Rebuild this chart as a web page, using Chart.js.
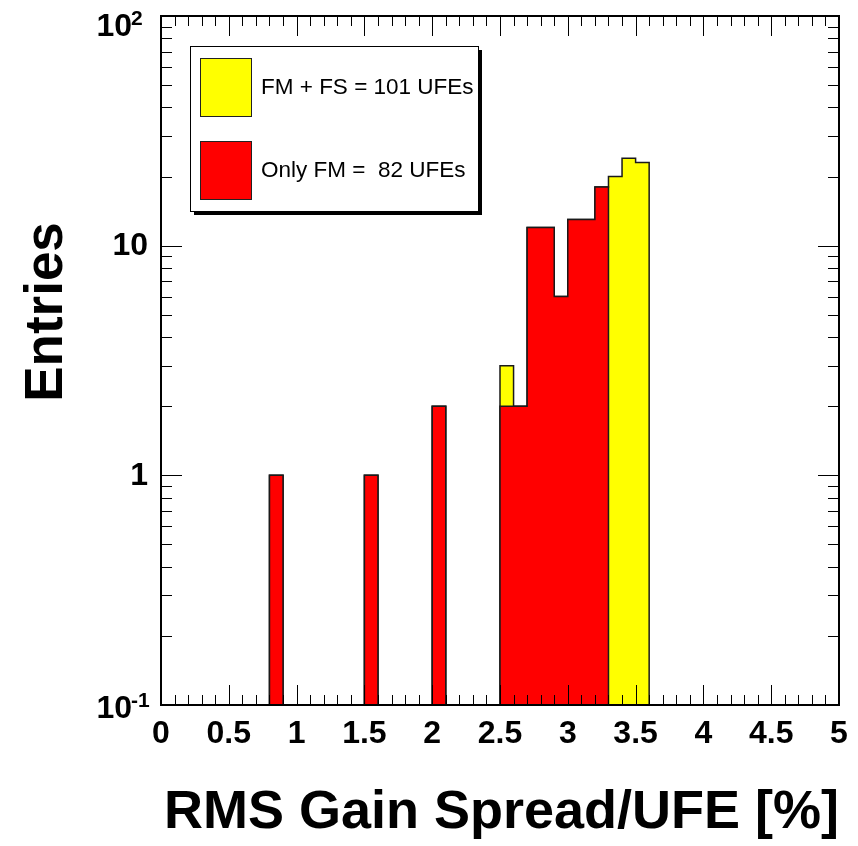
<!DOCTYPE html>
<html><head><meta charset="utf-8">
<style>html,body{margin:0;padding:0;background:#fff;} canvas{display:block}</style>
<script src="https://cdn.jsdelivr.net/npm/chart.js@4"></script>
</head><body>
<canvas id="c" width="858" height="846" style="width:858px;height:846px"></canvas>
<script>
// ---- data ----
const binEdges = [0.0,0.1,0.2,0.3,0.4,0.5,0.6,0.7,0.8,0.9,
                  1.0,1.1,1.2,1.3,1.4,1.5,1.6,1.7,1.8,1.9,
                  2.0,2.1,2.2,2.3,2.4,2.5,2.6,2.7,2.8,2.9,
                  3.0,3.1,3.2,3.3,3.4,3.5,3.6,3.7,3.8,3.9,
                  4.0,4.1,4.2,4.3,4.4,4.5,4.6,4.7,4.8,4.9,5.0];
const fmPlusFs = [0,0,0,0,0,0,0,0,1,0,
                  0,0,0,0,0,1,0,0,0,0,
                  2,0,0,0,0,3,2,12,12,6,
                  13,13,18,20,24,23,0,0,0,0,
                  0,0,0,0,0,0,0,0,0,0];
const onlyFm   = [0,0,0,0,0,0,0,0,1,0,
                  0,0,0,0,0,1,0,0,0,0,
                  2,0,0,0,0,2,2,12,12,6,
                  13,13,18,0,0,0,0,0,0,0,
                  0,0,0,0,0,0,0,0,0,0];
const seriesLabels = ['FM + FS = 101 UFEs', 'Only FM =  82 UFEs'];
const xTickValues = [0,0.5,1,1.5,2,2.5,3,3.5,4,4.5,5];
const yDecades = [0.1, 1, 10, 100];
const yTickLabels = [['10','-1'], ['1',''], ['10',''], ['10','2']];
const xTitle = 'RMS Gain Spread/UFE [%]';
const yTitle = 'Entries';
const yMin = 0.1, yMax = 100;

// empty bins are drawn on the log-axis floor (log scale cannot show 0)
function toSteps(vals) {
  const pts = vals.map((v, i) => ({x: binEdges[i], y: v > 0 ? v : yMin}));
  pts.push({x: binEdges[vals.length], y: yMin});
  return pts;
}

const FONT = '"Liberation Sans", Arial, sans-serif';

const rootPlugin = {
  id: 'rootStyle',
  afterDraw(chart) {
    const ctx = chart.ctx;
    const a = chart.chartArea;
    const xs = chart.scales.x, ys = chart.scales.y;
    ctx.save();
    // ticks
    ctx.strokeStyle = '#000';
    ctx.lineWidth = 1;
    ctx.beginPath();
    for (let k = 0; k <= 50; k++) {
      const v = k / 10;
      const px = Math.round(xs.getPixelForValue(v)) + 0.5;
      const len = (k % 5 === 0) ? 20 : 10;
      ctx.moveTo(px, a.bottom); ctx.lineTo(px, a.bottom - len);
      ctx.moveTo(px, a.top); ctx.lineTo(px, a.top + len);
    }
    for (let d = 0; d < yDecades.length; d++) {
      const dec = yDecades[d];
      for (let m = 1; m <= 9; m++) {
        if (d === yDecades.length - 1 && m > 1) break;
        const v = dec * m;
        const py = Math.round(ys.getPixelForValue(v)) + 0.5;
        const len = (m === 1) ? 21 : 11;
        ctx.moveTo(a.left, py); ctx.lineTo(a.left + len, py);
        ctx.moveTo(a.right, py); ctx.lineTo(a.right - len, py);
      }
    }
    ctx.stroke();
    // frame
    ctx.lineWidth = 2;
    ctx.strokeRect(a.left, a.top, a.right - a.left, a.bottom - a.top);

    // y tick labels
    ctx.fillStyle = '#000';
    ctx.textBaseline = 'middle';
    yDecades.forEach((dec, i) => {
      const [base, exp] = yTickLabels[i];
      let py = ys.getPixelForValue(dec);
      ctx.font = 'bold 32px ' + FONT;
      if (exp) {
        if (i === yDecades.length - 1) py += 11; else py += 4;
        ctx.textAlign = 'right';
        ctx.fillText(base, 132, py);
        ctx.font = 'bold 21px ' + FONT;
        ctx.textAlign = 'left';
        ctx.fillText(exp, 131, py - 8);
      } else {
        ctx.textAlign = 'right';
        ctx.fillText(base, 148, py + 1);
      }
    });

    // y title
    ctx.save();
    ctx.translate(62, 312);
    ctx.rotate(-Math.PI / 2);
    ctx.font = 'bold 53px ' + FONT;
    ctx.textAlign = 'center';
    ctx.textBaseline = 'alphabetic';
    ctx.fillText(yTitle, 0, 0);
    ctx.restore();

    // legend box
    const lx = 190, ly = 46, lw = 288, lh = 165;
    ctx.fillStyle = '#000';
    ctx.fillRect(lx + 4, ly + 4, lw, lh);
    ctx.fillStyle = '#fff';
    ctx.fillRect(lx, ly, lw, lh);
    ctx.lineWidth = 1;
    ctx.strokeStyle = '#000';
    ctx.strokeRect(lx + 0.5, ly + 0.5, lw, lh);
    const rows = [87, 170];
    chart.data.datasets.forEach((ds, i) => {
      const cy = rows[i];
      ctx.fillStyle = ds.backgroundColor;
      ctx.fillRect(200, cy - 29, 51, 58);
      ctx.strokeStyle = '#222';
      ctx.strokeRect(200.5, cy - 28.5, 51, 58);
      ctx.fillStyle = '#000';
      ctx.font = '22.5px ' + FONT;
      ctx.textAlign = 'left';
      ctx.textBaseline = 'middle';
      ctx.fillText(ds.label, 261, cy + 1);
    });
    ctx.restore();
  }
};

new Chart(document.getElementById('c'), {
  type: 'line',
  data: {
    datasets: [
      {label: seriesLabels[0], data: toSteps(fmPlusFs), backgroundColor: '#ffff00',
       borderColor: '#1a1a1a', borderWidth: 1.5, fill: 'start', stepped: true, pointRadius: 0, order: 2},
      {label: seriesLabels[1], data: toSteps(onlyFm), backgroundColor: '#ff0000',
       borderColor: '#1a1a1a', borderWidth: 1.5, fill: 'start', stepped: true, pointRadius: 0, order: 1}
    ]
  },
  options: {
    responsive: false,
    devicePixelRatio: 1,
    animation: false,
    layout: {padding: {left: 0, right: 19, top: 16, bottom: 0}},
    plugins: {legend: {display: false}, tooltip: {enabled: false}},
    scales: {
      x: {
        type: 'linear', min: 0, max: 5,
        grid: {display: false, drawTicks: false},
        border: {display: false},
        afterBuildTicks: (s) => { s.ticks = xTickValues.map(v => ({value: v})); },
        ticks: {
          autoSkip: false, maxRotation: 0, minRotation: 0, padding: 10,
          color: '#000', font: {family: FONT, size: 32, weight: 'bold'},
          callback: (v) => String(v)
        },
        title: {display: true, text: xTitle, align: 'end', color: '#000',
                font: {family: FONT, size: 54, weight: 'bold'}, padding: {top: 0, bottom: 0}},
        afterFit: (s) => { s.height = 141; }
      },
      y: {
        type: 'logarithmic', min: yMin, max: yMax,
        grid: {display: false, drawTicks: false},
        border: {display: false},
        ticks: {display: false},
        afterFit: (s) => { s.width = 161; }
      }
    }
  },
  plugins: [rootPlugin]
});
</script>
</body></html>
